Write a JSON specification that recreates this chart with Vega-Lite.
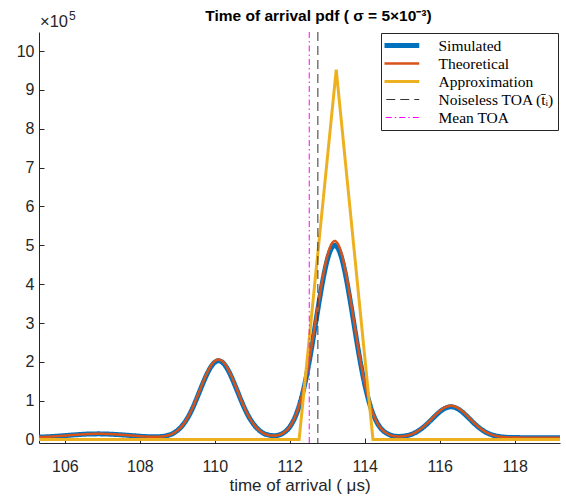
{
  "$schema": "https://vega.github.io/schema/vega-lite/v6.json",
  "width": 521,
  "height": 411,
  "autosize": {"type": "none"},
  "padding": {"left": 39, "top": 32, "right": 6, "bottom": 54},
  "background": "white",
  "title": {
    "text": "Time of arrival pdf ( σ = 5×10⁻³)",
    "font": "Liberation Sans",
    "fontSize": 15.5,
    "fontWeight": "bold",
    "color": "#000000",
    "anchor": "middle",
    "frame": "group",
    "baseline": "alphabetic",
    "offset": 2,
    "dx": 19,
    "dy": 28
  },
  "config": {
    "view": {"stroke": null},
    "axis": {
      "domainColor": "#262626",
      "tickColor": "#262626",
      "labelColor": "#262626",
      "labelFont": "Liberation Sans",
      "labelFontSize": 16,
      "titleFont": "Liberation Sans",
      "titleFontSize": 17,
      "titleFontWeight": "normal",
      "titleColor": "#262626",
      "grid": false,
      "tickSize": -5,
      "domainWidth": 1,
      "tickWidth": 1
    }
  },
  "datasets": {
    "pdf": [
      {"t": 105.3, "Simulated": 0.064, "Theoretical": 0.064},
      {"t": 105.6, "Simulated": 0.077, "Theoretical": 0.077},
      {"t": 105.9, "Simulated": 0.096, "Theoretical": 0.096},
      {"t": 106.2, "Simulated": 0.118, "Theoretical": 0.118},
      {"t": 106.5, "Simulated": 0.138, "Theoretical": 0.138},
      {"t": 106.9, "Simulated": 0.148, "Theoretical": 0.15},
      {"t": 107.3, "Simulated": 0.136, "Theoretical": 0.138},
      {"t": 107.6, "Simulated": 0.117, "Theoretical": 0.118},
      {"t": 107.9, "Simulated": 0.096, "Theoretical": 0.096},
      {"t": 108.2, "Simulated": 0.077, "Theoretical": 0.077},
      {"t": 108.5, "Simulated": 0.076, "Theoretical": 0.076},
      {"t": 108.7, "Simulated": 0.098, "Theoretical": 0.098},
      {"t": 108.8, "Simulated": 0.124, "Theoretical": 0.124},
      {"t": 108.9, "Simulated": 0.167, "Theoretical": 0.167},
      {"t": 109.0, "Simulated": 0.232, "Theoretical": 0.232},
      {"t": 109.1, "Simulated": 0.323, "Theoretical": 0.323},
      {"t": 109.2, "Simulated": 0.447, "Theoretical": 0.449},
      {"t": 109.3, "Simulated": 0.6, "Theoretical": 0.609},
      {"t": 109.4, "Simulated": 0.793, "Theoretical": 0.804},
      {"t": 109.5, "Simulated": 1.015, "Theoretical": 1.029},
      {"t": 109.6, "Simulated": 1.252, "Theoretical": 1.27},
      {"t": 109.7, "Simulated": 1.487, "Theoretical": 1.509},
      {"t": 109.8, "Simulated": 1.703, "Theoretical": 1.728},
      {"t": 109.9, "Simulated": 1.877, "Theoretical": 1.905},
      {"t": 110.0, "Simulated": 1.99, "Theoretical": 2.02},
      {"t": 110.1, "Simulated": 2.03, "Theoretical": 2.06},
      {"t": 110.2, "Simulated": 1.99, "Theoretical": 2.02},
      {"t": 110.3, "Simulated": 1.877, "Theoretical": 1.905},
      {"t": 110.4, "Simulated": 1.703, "Theoretical": 1.728},
      {"t": 110.5, "Simulated": 1.487, "Theoretical": 1.509},
      {"t": 110.6, "Simulated": 1.252, "Theoretical": 1.27},
      {"t": 110.7, "Simulated": 1.015, "Theoretical": 1.029},
      {"t": 110.8, "Simulated": 0.793, "Theoretical": 0.804},
      {"t": 110.9, "Simulated": 0.6, "Theoretical": 0.609},
      {"t": 111.0, "Simulated": 0.447, "Theoretical": 0.449},
      {"t": 111.1, "Simulated": 0.32, "Theoretical": 0.321},
      {"t": 111.2, "Simulated": 0.228, "Theoretical": 0.229},
      {"t": 111.3, "Simulated": 0.162, "Theoretical": 0.163},
      {"t": 111.4, "Simulated": 0.126, "Theoretical": 0.126},
      {"t": 111.5, "Simulated": 0.106, "Theoretical": 0.106},
      {"t": 111.6, "Simulated": 0.101, "Theoretical": 0.102},
      {"t": 111.7, "Simulated": 0.117, "Theoretical": 0.118},
      {"t": 111.8, "Simulated": 0.154, "Theoretical": 0.156},
      {"t": 111.9, "Simulated": 0.221, "Theoretical": 0.225},
      {"t": 112.0, "Simulated": 0.327, "Theoretical": 0.333},
      {"t": 112.1, "Simulated": 0.49, "Theoretical": 0.5},
      {"t": 112.2, "Simulated": 0.718, "Theoretical": 0.733},
      {"t": 112.3, "Simulated": 1.03, "Theoretical": 1.052},
      {"t": 112.4, "Simulated": 1.426, "Theoretical": 1.457},
      {"t": 112.5, "Simulated": 1.906, "Theoretical": 1.948},
      {"t": 112.6, "Simulated": 2.461, "Theoretical": 2.514},
      {"t": 112.7, "Simulated": 3.055, "Theoretical": 3.121},
      {"t": 112.8, "Simulated": 3.644, "Theoretical": 3.724},
      {"t": 112.9, "Simulated": 4.183, "Theoretical": 4.275},
      {"t": 113.0, "Simulated": 4.619, "Theoretical": 4.72},
      {"t": 113.1, "Simulated": 4.901, "Theoretical": 5.009},
      {"t": 113.2, "Simulated": 5.0, "Theoretical": 5.11},
      {"t": 113.3, "Simulated": 4.901, "Theoretical": 5.009},
      {"t": 113.4, "Simulated": 4.619, "Theoretical": 4.72},
      {"t": 113.5, "Simulated": 4.183, "Theoretical": 4.275},
      {"t": 113.6, "Simulated": 3.644, "Theoretical": 3.724},
      {"t": 113.7, "Simulated": 3.055, "Theoretical": 3.121},
      {"t": 113.8, "Simulated": 2.461, "Theoretical": 2.514},
      {"t": 113.9, "Simulated": 1.906, "Theoretical": 1.948},
      {"t": 114.0, "Simulated": 1.426, "Theoretical": 1.457},
      {"t": 114.1, "Simulated": 1.03, "Theoretical": 1.052},
      {"t": 114.2, "Simulated": 0.718, "Theoretical": 0.733},
      {"t": 114.3, "Simulated": 0.49, "Theoretical": 0.5},
      {"t": 114.4, "Simulated": 0.327, "Theoretical": 0.333},
      {"t": 114.5, "Simulated": 0.221, "Theoretical": 0.225},
      {"t": 114.6, "Simulated": 0.157, "Theoretical": 0.159},
      {"t": 114.7, "Simulated": 0.11, "Theoretical": 0.111},
      {"t": 114.8, "Simulated": 0.089, "Theoretical": 0.089},
      {"t": 114.9, "Simulated": 0.082, "Theoretical": 0.082},
      {"t": 115.0, "Simulated": 0.086, "Theoretical": 0.086},
      {"t": 115.1, "Simulated": 0.099, "Theoretical": 0.1},
      {"t": 115.2, "Simulated": 0.121, "Theoretical": 0.123},
      {"t": 115.3, "Simulated": 0.158, "Theoretical": 0.161},
      {"t": 115.4, "Simulated": 0.207, "Theoretical": 0.212},
      {"t": 115.5, "Simulated": 0.271, "Theoretical": 0.278},
      {"t": 115.6, "Simulated": 0.348, "Theoretical": 0.358},
      {"t": 115.7, "Simulated": 0.436, "Theoretical": 0.449},
      {"t": 115.8, "Simulated": 0.532, "Theoretical": 0.548},
      {"t": 115.9, "Simulated": 0.626, "Theoretical": 0.645},
      {"t": 116.0, "Simulated": 0.713, "Theoretical": 0.735},
      {"t": 116.1, "Simulated": 0.783, "Theoretical": 0.807},
      {"t": 116.2, "Simulated": 0.828, "Theoretical": 0.854},
      {"t": 116.3, "Simulated": 0.844, "Theoretical": 0.87},
      {"t": 116.4, "Simulated": 0.828, "Theoretical": 0.854},
      {"t": 116.5, "Simulated": 0.783, "Theoretical": 0.807},
      {"t": 116.6, "Simulated": 0.713, "Theoretical": 0.735},
      {"t": 116.7, "Simulated": 0.626, "Theoretical": 0.645},
      {"t": 116.8, "Simulated": 0.532, "Theoretical": 0.548},
      {"t": 116.9, "Simulated": 0.436, "Theoretical": 0.449},
      {"t": 117.0, "Simulated": 0.348, "Theoretical": 0.358},
      {"t": 117.1, "Simulated": 0.271, "Theoretical": 0.278},
      {"t": 117.2, "Simulated": 0.207, "Theoretical": 0.212},
      {"t": 117.3, "Simulated": 0.158, "Theoretical": 0.161},
      {"t": 117.4, "Simulated": 0.121, "Theoretical": 0.123},
      {"t": 117.5, "Simulated": 0.095, "Theoretical": 0.096},
      {"t": 117.6, "Simulated": 0.078, "Theoretical": 0.078},
      {"t": 117.7, "Simulated": 0.066, "Theoretical": 0.066},
      {"t": 117.8, "Simulated": 0.059, "Theoretical": 0.059},
      {"t": 118.0, "Simulated": 0.053, "Theoretical": 0.053},
      {"t": 118.5, "Simulated": 0.05, "Theoretical": 0.05},
      {"t": 119.3, "Simulated": 0.05, "Theoretical": 0.05}
    ],
    "approx": [
      {"t": 105.2, "Approximation": 0},
      {"t": 112.25, "Approximation": 0},
      {"t": 113.24, "Approximation": 9.52},
      {"t": 114.22, "Approximation": 0},
      {"t": 119.3, "Approximation": 0}
    ],
    "vlines": [
      {"t": 112.75, "series": "Noiseless TOA (t̄ᵢ)"},
      {"t": 112.52, "series": "Mean TOA"}
    ],
    "multiplier": [
      {"t": 105.31, "value": 10.49, "base": "×10", "exponent": "5"}
    ]
  },
  "encoding": {
    "x": {
      "field": "t",
      "type": "quantitative",
      "scale": {"domain": [105.31, 119.21], "nice": false, "zero": false},
      "axis": {
        "values": [106, 108, 110, 112, 114, 116, 118],
        "title": "time of arrival ( μs)",
        "labelPadding": 20,
        "titlePadding": 3
      }
    }
  },
  "layer": [
    {
      "data": {"name": "pdf"},
      "transform": [{"fold": ["Simulated"], "as": ["series", "value"]}],
      "mark": {"type": "line", "interpolate": "monotone", "clip": true, "strokeWidth": 5},
      "encoding": {
        "y": {
          "field": "value",
          "type": "quantitative",
          "scale": {"domain": [-0.087, 10.49], "nice": false, "zero": false},
          "axis": {
            "values": [0, 1, 2, 3, 4, 5, 6, 7, 8, 9, 10],
            "title": null,
            "labelPadding": 10
          }
        },
        "color": {
          "field": "series",
          "type": "nominal",
          "scale": {
            "domain": ["Simulated", "Theoretical", "Approximation", "Noiseless TOA (t̄ᵢ)", "Mean TOA"],
            "range": ["#0072BD", "#D95319", "#EDB120", "#333333", "#FF00FF"]
          },
          "legend": {
            "orient": "none",
            "legendX": 342,
            "legendY": 1,
            "title": null,
            "symbolType": "stroke",
            "symbolSize": 2209,
            "clipHeight": 18,
            "rowPadding": 0,
            "padding": 3.5,
            "labelOffset": 35,
            "symbolOffset": 3.5,
            "labelLimit": 0,
            "labelFont": "Liberation Serif",
            "labelFontSize": 15.5,
            "labelColor": "#000000",
            "fillColor": "#ffffff",
            "strokeColor": "#262626",
            "cornerRadius": 0,
            "encode": {
              "symbols": {
                "update": {
                  "strokeWidth": {"signal": "datum.value === 'Simulated' ? 5 : datum.value === 'Theoretical' ? 2.5 : datum.value === 'Approximation' ? 3 : 1"}
                }
              }
            }
          }
        },
        "strokeDash": {
          "field": "series",
          "type": "nominal",
          "scale": {
            "domain": ["Simulated", "Theoretical", "Approximation", "Noiseless TOA (t̄ᵢ)", "Mean TOA"],
            "range": [[1, 0], [1, 0], [1, 0], [9, 5], [6, 3, 1.5, 3]]
          }
        }
      }
    },
    {
      "data": {"name": "pdf"},
      "transform": [{"fold": ["Theoretical"], "as": ["series", "value"]}],
      "mark": {"type": "line", "interpolate": "monotone", "clip": true, "strokeWidth": 2.5},
      "encoding": {
        "y": {"field": "value", "type": "quantitative"},
        "color": {"field": "series", "type": "nominal"},
        "strokeDash": {"field": "series", "type": "nominal"}
      }
    },
    {
      "data": {"name": "approx"},
      "transform": [{"fold": ["Approximation"], "as": ["series", "value"]}],
      "mark": {"type": "line", "clip": true, "strokeWidth": 3},
      "encoding": {
        "y": {"field": "value", "type": "quantitative"},
        "color": {"field": "series", "type": "nominal"},
        "strokeDash": {"field": "series", "type": "nominal"}
      }
    },
    {
      "data": {"name": "vlines"},
      "mark": {"type": "rule", "strokeWidth": 1},
      "encoding": {
        "color": {"field": "series", "type": "nominal"},
        "strokeDash": {"field": "series", "type": "nominal"}
      }
    },
    {
      "data": {"name": "multiplier"},
      "mark": {
        "type": "text",
        "align": "left",
        "baseline": "alphabetic",
        "dx": 1,
        "dy": -5,
        "font": "Liberation Sans",
        "fontSize": 16.5,
        "color": "#262626"
      },
      "encoding": {
        "y": {"field": "value", "type": "quantitative"},
        "text": {"field": "base"}
      }
    },
    {
      "data": {"name": "multiplier"},
      "mark": {
        "type": "text",
        "align": "left",
        "baseline": "alphabetic",
        "dx": 30,
        "dy": -12,
        "font": "Liberation Sans",
        "fontSize": 12,
        "color": "#262626"
      },
      "encoding": {
        "y": {"field": "value", "type": "quantitative"},
        "text": {"field": "exponent"}
      }
    }
  ]
}
